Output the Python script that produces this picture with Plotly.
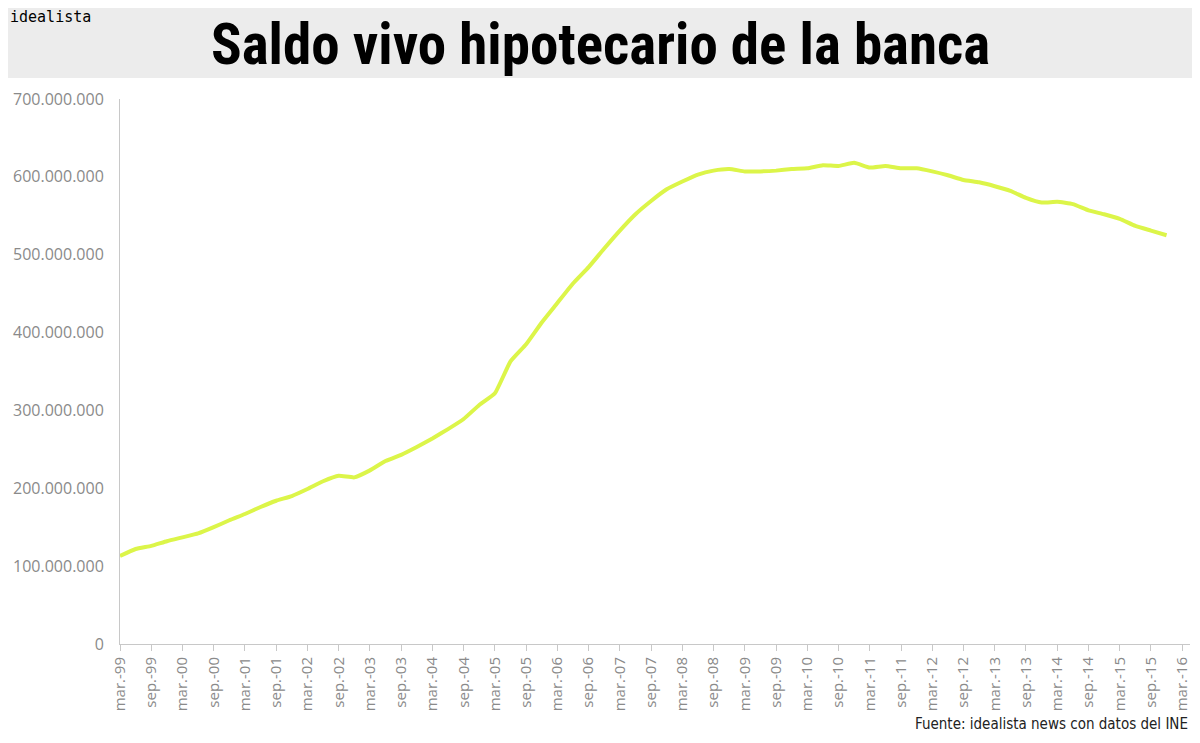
import plotly.graph_objects as go

# quarterly outstanding mortgage balance, mar-99 .. dec-15 (thousand euros)
saldo = [
    113e6, 122e6, 126e6, 132e6, 137e6, 142e6, 150e6, 159e6,
    167e6, 176e6, 184e6, 190e6, 199e6, 209e6, 216e6, 214e6,
    223e6, 235e6, 243e6, 253e6, 264e6, 276e6, 289e6, 307e6,
    322e6, 363e6, 385e6, 413e6, 438e6, 463e6, 484e6, 508e6,
    531e6, 552e6, 569e6, 584e6, 594e6, 603e6, 608e6, 610e6,
    607e6, 607e6, 608e6, 610e6, 611e6, 615e6, 614e6, 618e6,
    612e6, 614e6, 611e6, 611e6, 607e6, 602e6, 596e6, 593e6,
    588e6, 582e6, 573e6, 567e6, 568e6, 565e6, 557e6, 552e6,
    546e6, 537e6, 531e6, 525e6,
]
meses = ["mar.", "jun.", "sep.", "dic."]
anios = ["99"] + ["%02d" % y for y in range(0, 17)]

quarters = [f"{m}-{a}" for a in anios for m in meses]
x = list(range(len(saldo)))
tick_idx = list(range(0, 69, 2))
tick_txt = [quarters[i] for i in tick_idx]

y_ticks = list(range(0, 700_000_001, 100_000_000))
y_txt = ["0"] + [f"{v:,}".replace(",", ".") for v in y_ticks[1:]]

PH = 545  # plot height px
PW = 1070

fig = go.Figure(go.Scatter(
    x=x, y=saldo, mode="lines",
    line=dict(color="#dcf549", width=4, shape="spline", smoothing=0.4),
    hoverinfo="skip",
))

fig.update_layout(
    width=1184, height=727,
    margin=dict(l=112, r=2, t=91, b=91),
    plot_bgcolor="white", paper_bgcolor="white",
    showlegend=False,
    font=dict(family="Open Sans", color="#8a8a8a", size=16),
    shapes=[dict(type="rect", xref="paper", yref="paper", x0=-0.2, x1=1.2,
                 y0=1.0 + 21 / PH, y1=1.5, fillcolor="#ececec", line_width=0,
                 layer="below")],
    annotations=[
        dict(text="<b>Saldo vivo hipotecario de la banca</b>", xref="paper", yref="paper",
             x=(592 - 112) / PW, y=1 + 54 / PH, xanchor="center", yanchor="middle",
             showarrow=False, font=dict(family="Roboto Condensed, DejaVu Sans Condensed", size=57, color="black")),
        dict(text="idealista", xref="paper", yref="paper", x=-112 / PW, y=1 + 93 / PH,
             xanchor="left", yanchor="top", showarrow=False,
             font=dict(family="DejaVu Sans Mono", size=15, color="black")),
        dict(text="Fuente: idealista news con datos del INE", xref="paper", yref="paper",
             x=1.0, y=-80 / PH, xanchor="right", yanchor="middle", showarrow=False,
             font=dict(family="DejaVu Sans Condensed", size=15, color="#222")),
    ],
)
fig.update_xaxes(range=[0, 68.5], tickvals=tick_idx, ticktext=tick_txt, tickangle=-90,
                 showgrid=False, zeroline=False, showline=True, linecolor="#c8c8c8",
                 ticks="outside", tickcolor="#c8c8c8", ticklen=6,
                 tickfont=dict(size=15))
fig.update_yaxes(range=[0, 700_000_000], tickvals=y_ticks, ticktext=y_txt,
                 showgrid=False, zeroline=False, showline=True, linecolor="#c8c8c8",
                 ticks="", ticklabelstandoff=12, tickfont=dict(size=16))

fig.write_html("out.html")
